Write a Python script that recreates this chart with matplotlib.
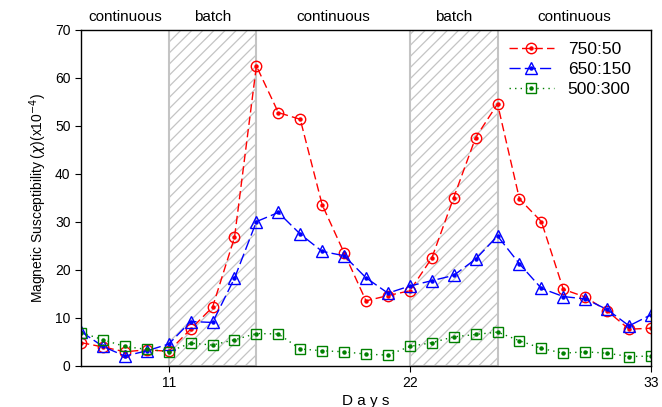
import numpy as np
import matplotlib.pyplot as plt

plt.rcParams['font.family'] = ['Liberation Sans', 'DejaVu Sans']
plt.rcParams['hatch.color'] = '#c4c4c4'
plt.rcParams['hatch.linewidth'] = 0.9

days = np.arange(7, 34)
chi_750 = [4.8, 3.9, 2.9, 3.3, 3.0, 7.6, 12.2, 26.7, 62.4, 52.7, 51.3, 33.5, 23.5,
           13.5, 14.6, 15.6, 22.4, 35.0, 47.5, 54.5, 34.7, 30.0, 15.9, 14.3, 11.4, 7.6, 7.8]
chi_650 = [7.1, 4.0, 2.0, 3.1, 4.5, 9.2, 9.0, 18.2, 30.0, 31.9, 27.4, 23.8, 22.9,
           18.3, 15.1, 16.6, 17.7, 18.8, 22.2, 27.0, 21.2, 16.1, 14.4, 13.9, 11.7, 8.3, 10.6]
chi_500 = [6.9, 5.4, 4.0, 3.4, 2.9, 4.7, 4.3, 5.4, 6.7, 6.6, 3.5, 3.1, 2.9,
           2.4, 2.2, 4.0, 4.8, 6.0, 6.5, 7.0, 5.2, 3.6, 2.6, 2.9, 2.6, 1.9, 2.0]
batches = [(11, 15), (22, 26)]
phase_labels = ['continuous', 'batch', 'continuous', 'batch', 'continuous']
phase_pos = [9, 13, 18.5, 24, 29.5]

fig = plt.figure(figsize=(6.62, 4.07), dpi=100)
ax = fig.add_axes([0.1224, 0.1015, 0.861, 0.826])

# shaded batch periods
for x0, x1 in batches:
    ax.axvspan(x0, x1, facecolor='white', edgecolor='#c4c4c4', hatch='///', linewidth=1.5, zorder=0)

series = [
    (chi_750, 'red', 'o', (0, (6, 3)), '750:50', 7.5),
    (chi_650, 'blue', '^', (0, (8, 3)), '650:150', 8),
    (chi_500, 'green', 's', (0, (1, 3)), '500:300', 7),
]
handles = []
for vals, col, mk, ls, lab, ms in series:
    ln, = ax.plot(days, vals, color=col, linestyle=ls, linewidth=1, marker=mk, markersize=ms,
                  markerfacecolor='none', markeredgecolor=col, markeredgewidth=1)
    dot, = ax.plot(days, vals, linestyle='none', marker='o', markersize=2.2, color=col)
    handles.append((ln, dot))

ax.set_xlim(7, 33)
ax.set_ylim(0, 70)
ax.set_xticks([11, 22, 33])
ax.set_yticks(range(0, 71, 10))
ax.tick_params(direction='out', length=4, labelsize=10)
for s in ax.spines.values():
    s.set_linewidth(1)

ax.set_xlabel('D a y s', fontsize=11, labelpad=3)
ax.set_ylabel(r'Magnetic Susceptibility ($\chi$)(x10$^{-4}$)', fontsize=10)

for lab, xp in zip(phase_labels, phase_pos):
    ax.text(xp, 71.2, lab, ha='center', va='bottom', fontsize=11)

ax.legend(handles, [s[4] for s in series], loc='upper left', bbox_to_anchor=(0.735, 0.99),
          frameon=False, fontsize=12.5, handlelength=2.6, handletextpad=0.8,
          borderaxespad=0.2, labelspacing=0.3, borderpad=0.3)

fig.savefig('out.png', dpi=100)
